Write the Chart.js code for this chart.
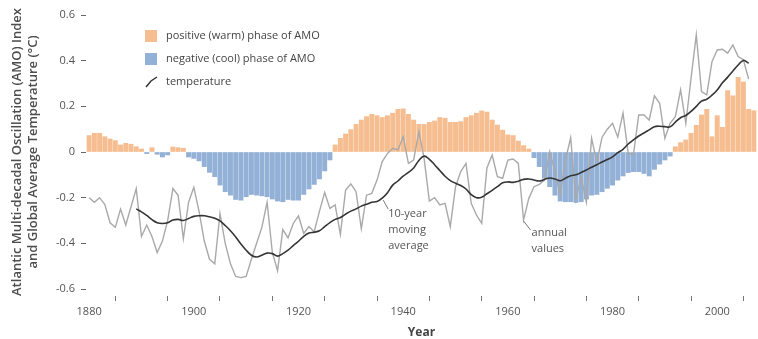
<!DOCTYPE html>
<html>
<head>
<meta charset="utf-8">
<script src="https://cdn.jsdelivr.net/npm/chart.js@4.4.1/dist/chart.umd.min.js"></script>
<style>
  html, body { margin: 0; padding: 0; background: #fff; }
</style>
</head>
<body>
<canvas id="amoChart" width="758" height="339"></canvas>
<script>
// AMO index, one value per year from 1880
const amoStartYear = 1880;
const amoIndex = [
  0.072, 0.082, 0.082, 0.067, 0.057, 0.050, 0.031, 0.038, 0.034, 0.023,
  0.013, -0.007, 0.019, -0.010, -0.022, -0.013, 0.022, 0.019, 0.016, -0.022,
  -0.028, -0.039, -0.064, -0.089, -0.108, -0.145, -0.174, -0.189, -0.208, -0.211,
  -0.196, -0.186, -0.189, -0.192, -0.196, -0.206, -0.215, -0.218, -0.208, -0.211,
  -0.211, -0.186, -0.162, -0.142, -0.118, -0.083, -0.035, 0.031, 0.060, 0.079,
  0.098, 0.121, 0.140, 0.155, 0.165, 0.159, 0.151, 0.159, 0.170, 0.187,
  0.189, 0.165, 0.140, 0.121, 0.121, 0.130, 0.136, 0.151, 0.148, 0.130,
  0.130, 0.133, 0.151, 0.159, 0.170, 0.180, 0.175, 0.140, 0.118, 0.096,
  0.075, 0.072, 0.048, 0.028, 0.013, -0.025, -0.064, -0.115, -0.152, -0.189,
  -0.215, -0.218, -0.218, -0.221, -0.218, -0.206, -0.189, -0.186, -0.174, -0.159,
  -0.145, -0.123, -0.105, -0.090, -0.086, -0.086, -0.094, -0.105, -0.076, -0.053,
  -0.035, -0.018, 0.023, 0.041, 0.053, 0.082, 0.117, 0.162, 0.187, 0.067,
  0.159, 0.108, 0.269, 0.246, 0.327, 0.307, 0.187, 0.181
];

// global temperature, annual values from 1880
const tempStartYear = 1880;
const tempAnnual = [
  -0.20, -0.22, -0.20, -0.23, -0.31, -0.33, -0.25, -0.32, -0.24, -0.16,
  -0.37, -0.32, -0.37, -0.44, -0.39, -0.30, -0.16, -0.19, -0.38, -0.22,
  -0.155, -0.26, -0.39, -0.47, -0.49, -0.27, -0.40, -0.49, -0.545, -0.55,
  -0.545, -0.47, -0.40, -0.33, -0.22, -0.44, -0.52, -0.34, -0.376, -0.313,
  -0.28, -0.357, -0.327, -0.349, -0.26, -0.177, -0.247, -0.232, -0.361, -0.167,
  -0.14, -0.174, -0.336, -0.189, -0.181, -0.123, -0.042, -0.006, 0.016, 0.009,
  0.067, -0.05, -0.035, 0.089, -0.028, -0.215, -0.20, -0.232, -0.225, -0.327,
  -0.152, -0.086, -0.05, -0.225, -0.276, -0.313, -0.07, -0.013, -0.108, -0.115,
  -0.035, -0.031, -0.05, -0.298, -0.203, -0.152, -0.142, -0.123, 0.001, -0.086,
  -0.189, -0.035, 0.063, -0.21, -0.11, -0.22, 0.06, -0.045, 0.065, 0.10,
  0.126, 0.065, 0.17, -0.006, -0.01, 0.162, 0.162, 0.14, 0.246, 0.213,
  0.06, 0.126, 0.155, 0.272, 0.126, 0.323, 0.513, 0.265, 0.25, 0.396,
  0.447, 0.45, 0.433, 0.469, 0.418, 0.404, 0.319
];

// 10-year moving average of the temperature, from 1889
const avgStartYear = 1889;
const tempMovingAvg = [
  -0.249,
  -0.262, -0.278, -0.296, -0.31, -0.313, -0.31, -0.298, -0.295, -0.30, -0.291,
  -0.282, -0.279, -0.279, -0.284, -0.29, -0.302, -0.322, -0.345, -0.372, -0.403,
  -0.43, -0.452, -0.46, -0.452, -0.443, -0.445, -0.456, -0.445, -0.43, -0.41,
  -0.391, -0.369, -0.355, -0.351, -0.345, -0.327, -0.309, -0.295, -0.287, -0.272,
  -0.259, -0.249, -0.237, -0.229, -0.22, -0.217, -0.202, -0.178, -0.145, -0.127,
  -0.106, -0.089, -0.07, -0.037, -0.018, -0.032, -0.056, -0.081, -0.106, -0.125,
  -0.137, -0.147, -0.162, -0.187, -0.20, -0.198, -0.183, -0.168, -0.152, -0.135,
  -0.131, -0.133, -0.128, -0.12, -0.118, -0.123, -0.127, -0.12, -0.114, -0.118,
  -0.126, -0.115, -0.104, -0.10, -0.09, -0.079, -0.067, -0.056, -0.044, -0.033,
  -0.021, -0.003, 0.012, 0.035, 0.053, 0.07, 0.083, 0.097, 0.111, 0.113,
  0.111, 0.11, 0.131, 0.15, 0.16, 0.178, 0.20, 0.223, 0.231, 0.249,
  0.272, 0.303, 0.328, 0.355, 0.381, 0.401, 0.389
];

const xLabelYears = [1880, 1900, 1920, 1940, 1960, 1980, 2000];

const warmColor = '#f6be90';
const coolColor = '#93b0d6';
const fontFamily = '"Open Sans", "Noto Sans", sans-serif';

const toPoints = (start, values) => values.map((v, i) => ({ x: start + i, y: v }));

// legend and the two callouts, drawn over the plot
const overlayText = {
  id: 'overlayText',
  afterDatasetsDraw(chart) {
    const { ctx, scales } = chart;
    ctx.save();
    ctx.font = '11px ' + fontFamily;
    ctx.textBaseline = 'middle';

    ctx.fillStyle = warmColor;
    ctx.fillRect(145, 30, 12, 12);
    ctx.fillStyle = coolColor;
    ctx.fillRect(145, 53, 12, 12);
    ctx.strokeStyle = '#333';
    ctx.lineWidth = 1.5;
    ctx.beginPath();
    ctx.moveTo(146, 87);
    ctx.lineTo(151, 81);
    ctx.lineTo(157, 77);
    ctx.stroke();

    ctx.fillStyle = '#444';
    ctx.fillText('positive (warm) phase of AMO', 166, 36);
    ctx.fillText('negative (cool) phase of AMO', 166, 59);
    ctx.fillText('temperature', 166, 82);

    // callout for the moving average
    ctx.strokeStyle = '#555';
    ctx.lineWidth = 0.8;
    const avgYear = 1936;
    const ax = scales.x.getPixelForValue(avgYear);
    const ay = scales.y.getPixelForValue(tempMovingAvg[avgYear - avgStartYear]);
    ctx.beginPath();
    ctx.moveTo(ax + 1, ay + 2);
    ctx.lineTo(ax + 6, ay + 11);
    ctx.stroke();
    ctx.fillStyle = '#555';
    ctx.fillText('10-year', ax + 6, ay + 16);
    ctx.fillText('moving', ax + 6, ay + 32);
    ctx.fillText('average', ax + 6, ay + 48);

    // callout for the annual values
    const anYear = 1963;
    const bx = scales.x.getPixelForValue(anYear);
    const by = scales.y.getPixelForValue(tempAnnual[anYear - tempStartYear]);
    ctx.beginPath();
    ctx.moveTo(bx, by + 1);
    ctx.lineTo(bx + 7, by + 10);
    ctx.stroke();
    ctx.fillText('annual', bx + 8, by + 13);
    ctx.fillText('values', bx + 8, by + 29);
    ctx.restore();
  }
};

Chart.defaults.font.family = fontFamily;

const ctx = document.getElementById('amoChart');
const amoChart = new Chart(ctx, {
  type: 'bar',
  data: {
    datasets: [{
      type: 'line',
      data: toPoints(avgStartYear, tempMovingAvg),
      borderColor: '#353535',
      borderWidth: 1.6,
      pointRadius: 0,
      tension: 0.4,
      order: 1
    },
    {
      type: 'line',
      data: toPoints(tempStartYear, tempAnnual),
      borderColor: '#a9a9a9',
      borderWidth: 1.4,
      pointRadius: 0,
      tension: 0,
      order: 2
    },
    {
      type: 'bar',
      data: toPoints(amoStartYear, amoIndex),
      backgroundColor: (c) => (c.raw && c.raw.y < 0 ? coolColor : warmColor),
      borderWidth: 0,
      barThickness: 4.3,
      grouped: false,
      order: 3
    }]
  },
  options: {
    responsive: false,
    animation: false,
    layout: { padding: { top: 15, right: 1, bottom: 0, left: 0 } },
    plugins: {
      legend: { display: false },
      tooltip: { enabled: false }
    },
    scales: {
      x: {
        type: 'linear',
        min: 1879.4,
        max: 2007.6,
        offset: false,
        border: { display: false },
        grid: {
          drawOnChartArea: false,
          tickLength: 12,
          tickColor: '#777',
          tickBorderDash: [5, 20],
          tickBorderDashOffset: 18
        },
        ticks: {
          stepSize: 10,
          maxTicksLimit: 20,
          includeBounds: false,
          autoSkip: false,
          maxRotation: 0,
          padding: 4,
          color: '#555',
          font: { size: 11 },
          callback: (v) => (xLabelYears.includes(v) ? String(v) : '')
        },
        title: {
          display: true,
          text: 'Year',
          color: '#444',
          font: { size: 12, weight: 'bold', lineHeight: 1 },
          padding: 0
        },
        afterFit: (s) => { s.height = 50; }
      },
      y: {
        min: -0.6,
        max: 0.6,
        border: { display: false },
        grid: {
          drawOnChartArea: false,
          tickLength: 5,
          tickColor: '#666'
        },
        ticks: {
          stepSize: 0.2,
          padding: 6,
          color: '#555',
          font: { size: 11 },
          callback: (v) => (Math.abs(v) < 1e-9 ? '0' : v.toFixed(1))
        },
        title: {
          display: true,
          text: ['Atlantic Multi-decadal Oscillation (AMO) Index', 'and Global Average Temperature (\u00B0C)'],
          color: '#4d4d4d',
          font: { size: 13, weight: '600', lineHeight: 1.25 },
          padding: { top: 9, bottom: 0 }
        },
        afterFit: (s) => { s.width = 86; }
      }
    }
  },
  plugins: [overlayText]
});
</script>
</body>
</html>
